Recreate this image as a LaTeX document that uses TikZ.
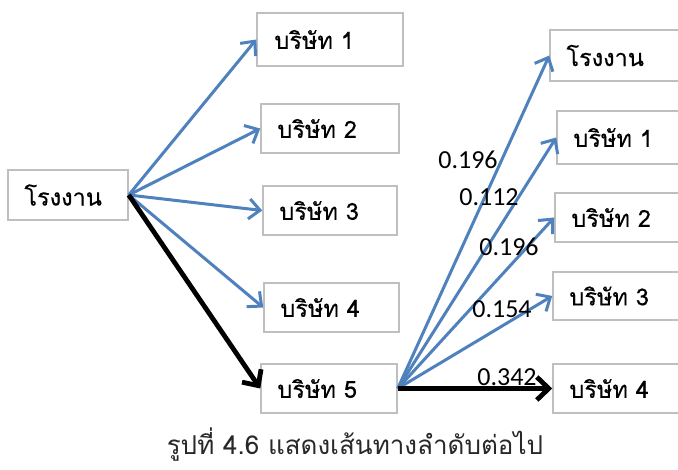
\documentclass[tikz,border=0pt]{standalone}
\usepackage{fontspec}
\newfontfamily\thaifont[Script=Thai]{Loma}
\newfontfamily\thaiboxfont[Script=Thai,FakeBold=0.4]{Loma}
\newfontfamily\numfont{Carlito}
\usetikzlibrary{arrows.meta}
\definecolor{ablue}{RGB}{79,129,189}
\definecolor{bgray}{RGB}{191,191,191}
\definecolor{capgray}{RGB}{40,40,40}
\begin{document}
\begin{tikzpicture}[x=1pt,y=-1pt,
  box/.style 2 args={draw=bgray, line width=1.5pt, minimum width=#1, minimum height=#2, inner sep=0pt},
  txt/.style={anchor=west, inner sep=0pt, font=\thaiboxfont\fontsize{23.5}{26}\selectfont},
  val/.style={inner sep=0pt, font=\numfont\fontsize{26}{28}\selectfont},
  barrow/.style={draw=ablue, line width=3pt, -{Straight Barb[length=11pt,width=20pt]}},
  karrow/.style={draw=black, line width=4.8pt, -{Straight Barb[length=12pt,width=23pt]}}
]
\useasboundingbox (0,0) rectangle (678,470);
\clip (0,0) rectangle (678,470);
% left column
\node[box={120pt}{50pt}] (L) at (68,195) {};
\node[txt] (Lt) at ([xshift=17pt]L.west) {โรงงาน};
\node[box={146pt}{53pt}] (B1) at (330,39.5) {};
\node[txt] (B1t) at ([xshift=18pt]B1.west) {บริษัท 1};
\node[box={138pt}{49pt}] (B2) at (330,128.5) {};
\node[txt] (B2t) at ([xshift=17pt]B2.west) {บริษัท 2};
\node[box={134pt}{49pt}] (B3) at (330,210.5) {};
\node[txt] (B3t) at ([xshift=17pt]B3.west) {บริษัท 3};
\node[box={135pt}{49pt}] (B4) at (331.5,307.5) {};
\node[txt] (B4t) at ([xshift=17pt]B4.west) {บริษัท 4};
\node[box={136pt}{49pt}] (B5) at (329,388.5) {};
\node[txt] (B5t) at ([xshift=17pt]B5.west) {บริษัท 5};
% right column
\node[box={140pt}{51pt}] (R0) at (620,55.5) {};
\node[txt] (R0t) at ([xshift=17pt]R0.west) {โรงงาน};
\node[box={133pt}{53pt}] (R1) at (623.5,137.5) {};
\node[txt] (R1t) at ([xshift=17pt]R1.west) {บริษัท 1};
\node[box={135pt}{49pt}] (R2) at (622.5,217.5) {};
\node[txt] (R2t) at ([xshift=17pt]R2.west) {บริษัท 2};
\node[box={137pt}{48pt}] (R3) at (621.5,296) {};
\node[txt] (R3t) at ([xshift=17pt]R3.west) {บริษัท 3};
\node[box={137pt}{49pt}] (R4) at (621.5,388.5) {};
\node[txt] (R4t) at ([xshift=17pt]R4.west) {บริษัท 4};
% arrows from left
\draw[barrow] (L.east) -- (B1.west);
\draw[barrow] (L.east) -- (B2.west);
\draw[barrow] (L.east) -- (B3.west);
\draw[barrow] (L.east) -- (B4.west);
\draw[karrow] (L.east) -- (B5.west);
% arrows from B5
\draw[barrow] (B5.east) -- (R0.west);
\draw[barrow] (B5.east) -- (R1.west);
\draw[barrow] (B5.east) -- (R2.west);
\draw[barrow] (B5.east) -- (R3.west);
\draw[karrow] (B5.east) -- (R4.west);
% values
\node[val] (v0) at (468,160) {0.196};
\node[val] (v1) at (489,197) {0.112};
\node[val] (v2) at (509,247) {0.196};
\node[val] (v3) at (502,309) {0.154};
\node[val] (v4) at (507,377) {0.342};
% caption
\node[inner sep=0pt, text=capgray, font=\thaifont\fontsize{26}{30}\selectfont] (cap) at (355,445) {รูปที่ 4.6 แสดงเส้นทางลำดับต่อไป};
\end{tikzpicture}
\end{document}
